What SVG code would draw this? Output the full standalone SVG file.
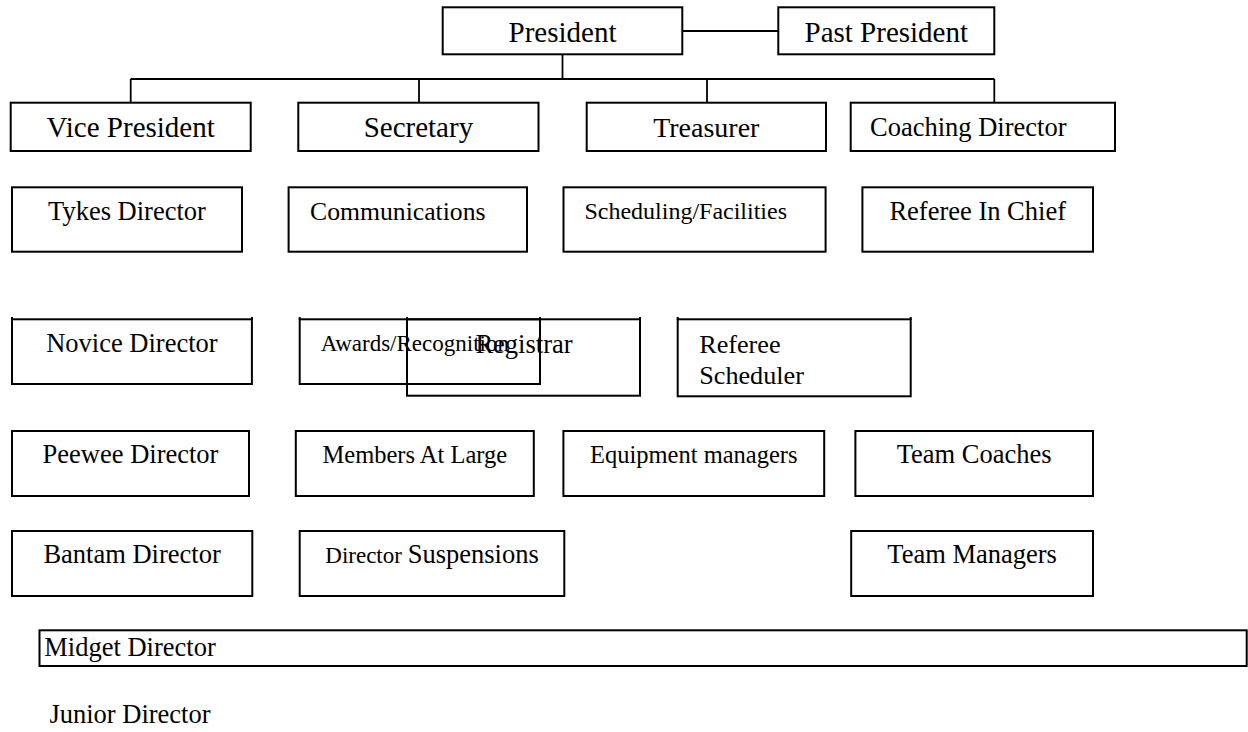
<svg xmlns="http://www.w3.org/2000/svg" width="1248" height="732" viewBox="0 0 1248 732">
  <style>
    .box { fill: none; stroke: #000; stroke-width: 2; }
    .tick { fill: none; stroke: #000; stroke-width: 2; }
    .link { fill: none; stroke: #000; stroke-width: 1.8; }
    text { font-family: "Liberation Serif", "Times New Roman", serif; fill: #000; }
    .c { text-anchor: middle; }
    .l { text-anchor: start; }
    .t1 { font-size: 29px; }
    .t2 { font-size: 26.5px; }
    .t3 { font-size: 24.5px; }
    .t4 { font-size: 23px; }
  </style>
  <rect width="1248" height="732" fill="#fff"/>

  <!-- connectors -->
  <g id="connectors">
    <path class="link" d="M682 31 H778"/>
    <path class="link" d="M562.5 54 V79"/>
    <path class="link" d="M130.7 79 H994.3"/>
    <path class="link" d="M130.7 79 V103"/>
    <path class="link" d="M419 79 V103"/>
    <path class="link" d="M707 79 V103"/>
    <path class="link" d="M994.3 79 V103"/>
  </g>

  <!-- top row -->
  <g id="president">
    <rect class="box" x="442.7" y="7.3" width="239.6" height="47"/>
    <text class="c t1" x="562.5" y="41.7">President</text>
  </g>
  <g id="past-president">
    <rect class="box" x="778.3" y="7.3" width="216" height="47"/>
    <text class="c t1" x="886.3" y="41.7">Past President</text>
  </g>

  <!-- executive row -->
  <g id="vice-president">
    <rect class="box" x="10.7" y="102.7" width="240" height="48.3"/>
    <text class="c t1" x="130.7" y="136.7">Vice President</text>
  </g>
  <g id="secretary">
    <rect class="box" x="298.3" y="102.7" width="240.2" height="48.3"/>
    <text class="c t1" x="418.4" y="136.7">Secretary</text>
  </g>
  <g id="treasurer">
    <rect class="box" x="586.7" y="102.7" width="239.3" height="48.3"/>
    <text class="c" style="font-size:28px" x="706.3" y="136.7">Treasurer</text>
  </g>
  <g id="coaching-director">
    <rect class="box" x="850.7" y="102.7" width="264.3" height="48.3"/>
    <text class="l t2" x="870" y="135.5">Coaching Director</text>
  </g>

  <!-- third row -->
  <g id="tykes-director">
    <rect class="box" x="12" y="187.3" width="230" height="64.4"/>
    <text class="c t2" x="127" y="220">Tykes Director</text>
  </g>
  <g id="communications">
    <rect class="box" x="288.6" y="187.3" width="238.4" height="64.4"/>
    <text class="l" style="font-size:25.7px" x="310" y="220">Communications</text>
  </g>
  <g id="scheduling-facilities">
    <rect class="box" x="563.5" y="187.3" width="262.1" height="64.4"/>
    <text class="l" style="font-size:24px" x="584.4" y="218.5">Scheduling/Facilities</text>
  </g>
  <g id="referee-in-chief">
    <rect class="box" x="862.4" y="187.3" width="230.6" height="64.4"/>
    <text class="c t2" x="977.7" y="220">Referee In Chief</text>
  </g>

  <!-- fourth row -->
  <g id="novice-director">
    <rect class="box" x="12" y="319.3" width="239.9" height="64.7"/>
    <path class="tick" d="M12 317 V320 M251.9 317 V320"/>
    <text class="c t2" x="131.9" y="351.7">Novice Director</text>
  </g>
  <g id="awards-recognition">
    <rect class="box" x="299.7" y="319.3" width="240.3" height="64.7"/>
    <path class="tick" d="M299.7 317 V320 M540 317 V320"/>
    <text class="l t4" x="320.7" y="350.5">Awards/Recognition</text>
  </g>
  <g id="registrar">
    <rect class="box" x="407" y="319.3" width="233" height="76.4"/>
    <path class="tick" d="M407 317 V320 M640 317 V320"/>
    <text class="c t2" x="524" y="353">Registrar</text>
  </g>
  <g id="referee-scheduler">
    <rect class="box" x="677.7" y="319.3" width="233" height="77"/>
    <path class="tick" d="M677.7 317 V320 M910.7 317 V320"/>
    <text class="l" style="font-size:26.2px" x="699.2" y="353.3">Referee</text>
    <text class="l" style="font-size:26.2px" x="699.2" y="384">Scheduler</text>
  </g>

  <!-- fifth row -->
  <g id="peewee-director">
    <rect class="box" x="12" y="431" width="237" height="65"/>
    <text class="c t2" x="130.5" y="463.3">Peewee Director</text>
  </g>
  <g id="members-at-large">
    <rect class="box" x="295.8" y="431" width="238" height="65"/>
    <text class="c t3" x="414.8" y="463">Members At Large</text>
  </g>
  <g id="equipment-managers">
    <rect class="box" x="563.4" y="431" width="260.8" height="65"/>
    <text class="c t3" x="693.8" y="463">Equipment managers</text>
  </g>
  <g id="team-coaches">
    <rect class="box" x="855.4" y="431" width="237.6" height="65"/>
    <text class="c t2" x="974.2" y="463.3">Team Coaches</text>
  </g>

  <!-- sixth row -->
  <g id="bantam-director">
    <rect class="box" x="12" y="531" width="240.3" height="65"/>
    <text class="c t2" x="132.1" y="563.3">Bantam Director</text>
  </g>
  <g id="director-suspensions">
    <rect class="box" x="299.7" y="531" width="264.6" height="65"/>
    <text class="c" x="432" y="563.3"><tspan style="font-size:23px">Director </tspan><tspan style="font-size:26.5px">Suspensions</tspan></text>
  </g>
  <g id="team-managers">
    <rect class="box" x="851.2" y="531" width="241.8" height="65"/>
    <text class="c t2" x="972.1" y="563.3">Team Managers</text>
  </g>

  <!-- bottom entries -->
  <g id="midget-director">
    <rect class="box" x="39.5" y="630.3" width="1207.2" height="35.7"/>
    <text class="l t2" x="44.3" y="655.7">Midget Director</text>
  </g>
  <g id="junior-director">
    <text class="l t2" x="49.4" y="723.3">Junior Director</text>
  </g>
</svg>
